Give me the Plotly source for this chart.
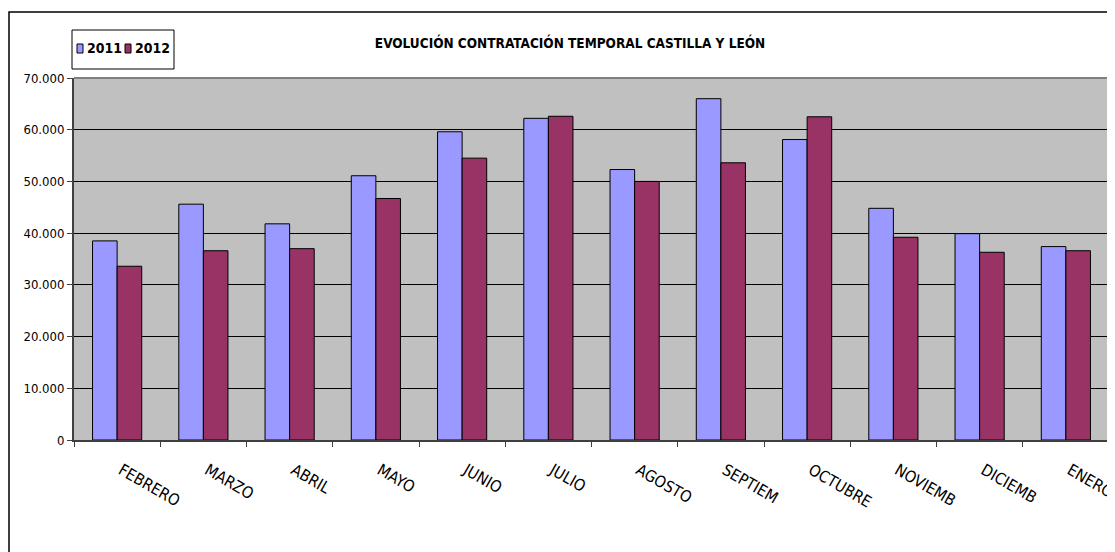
import plotly.graph_objs as go


##### DATA
meses = ["FEBRERO", "MARZO", "ABRIL", "MAYO", "JUNIO", "JULIO",
         "AGOSTO", "SEPTIEM", "OCTUBRE", "NOVIEMB", "DICIEMB", "ENERO"]

contratos_2011 = [38500, 45600, 41800, 51100, 59600, 62200,
                  52300, 66000, 58100, 44800, 39900, 37400]
contratos_2012 = [33600, 36600, 37000, 46700, 54500, 62600,
                  50000, 53600, 62500, 39200, 36300, 36600]

y_ticks = [0, 10000, 20000, 30000, 40000, 50000, 60000, 70000]

titulo = "EVOLUCIÓN CONTRATACIÓN TEMPORAL CASTILLA Y LEÓN"
colores = {"2011": "#9999FF", "2012": "#993366"}


##### STYLE
# page body has an 8px margin, so everything below is in figure pixels (page - 8)
FONT = "DejaVu Sans Condensed, Liberation Sans Narrow, Arial Narrow, Liberation Sans, sans-serif"
W, H = 1107, 544
L, R, T, B = 66, 6, 70, 112
pw, ph = W - L - R, H - T - B


def px_x(x):
    return (x - L) / pw


def px_y(y):
    return (H - B - y) / ph


##### FIGURE
fig = go.Figure()
fig.add_trace(go.Bar(x=meses, y=contratos_2011, name="2011",
                     marker=dict(color=colores["2011"], line=dict(color="black", width=1))))
fig.add_trace(go.Bar(x=meses, y=contratos_2012, name="2012",
                     marker=dict(color=colores["2012"], line=dict(color="black", width=1))))

fig.update_layout(
    width=W, height=H,
    margin=dict(l=L, r=R, t=T, b=B, autoexpand=False),
    paper_bgcolor="white", plot_bgcolor="#C0C0C0",
    separators=",.",
    barmode="group", bargap=0.43, bargroupgap=0,
    font=dict(family=FONT, size=13, color="black"),
    title=dict(text="<b>" + titulo + "</b>", x=px_x(562), xref="paper", xanchor="center",
               y=1 - 35 / H, yanchor="middle", font=dict(size=13.5, family=FONT)),
    showlegend=False,
)

fig.update_xaxes(
    type="category", tickangle=30, tickson="boundaries", ticks="outside", ticklen=5,
    tickcolor="#404040", showline=True, linecolor="#404040", linewidth=2,
    tickfont=dict(size=16, family=FONT), automargin=False, range=[-0.5, 11.5],
    ticklabelstandoff=13, ticklabelshift=4,
)
fig.update_yaxes(
    range=[0, 70000], tickvals=y_ticks, tickformat=",d", ticks="outside", ticklen=5,
    tickcolor="#404040", showline=True, linecolor="#404040", linewidth=2,
    showgrid=True, gridcolor="black", gridwidth=1, zeroline=False,
    tickfont=dict(size=13, family=FONT), automargin=False,
)

# grey frame of the plot area (top and right edges)
fig.add_shape(type="line", xref="paper", yref="paper", x0=0, x1=1, y0=1, y1=1,
              line=dict(color="#808080", width=2))
fig.add_shape(type="line", xref="paper", yref="paper", x0=1, x1=1, y0=0, y1=1,
              line=dict(color="#808080", width=2))

# outer chart border (bottom edge falls outside the visible page)
fig.add_shape(type="rect", xref="paper", yref="paper",
              x0=px_x(1), x1=px_x(1105), y0=px_y(552), y1=px_y(4),
              line=dict(color="black", width=1.5), fillcolor="rgba(0,0,0,0)", layer="below")

##### LEGEND (small excel-like box)
fig.add_shape(type="rect", xref="paper", yref="paper",
              x0=px_x(64), x1=px_x(166), y0=px_y(61), y1=px_y(22),
              line=dict(color="black", width=1), fillcolor="white")
leg_x = [69, 117]
for tr, lx in zip(fig.data, leg_x):
    fig.add_shape(type="rect", xref="paper", yref="paper",
                  x0=px_x(lx), x1=px_x(lx + 6), y0=px_y(45), y1=px_y(36),
                  line=dict(color="black", width=1), fillcolor=colores[tr.name])
    fig.add_annotation(text="<b>" + tr.name + "</b>", xref="paper", yref="paper",
                       x=px_x(lx + 8), y=px_y(40.5), xanchor="left", yanchor="middle",
                       showarrow=False, font=dict(size=14, family=FONT))

fig.write_html("out.html")
